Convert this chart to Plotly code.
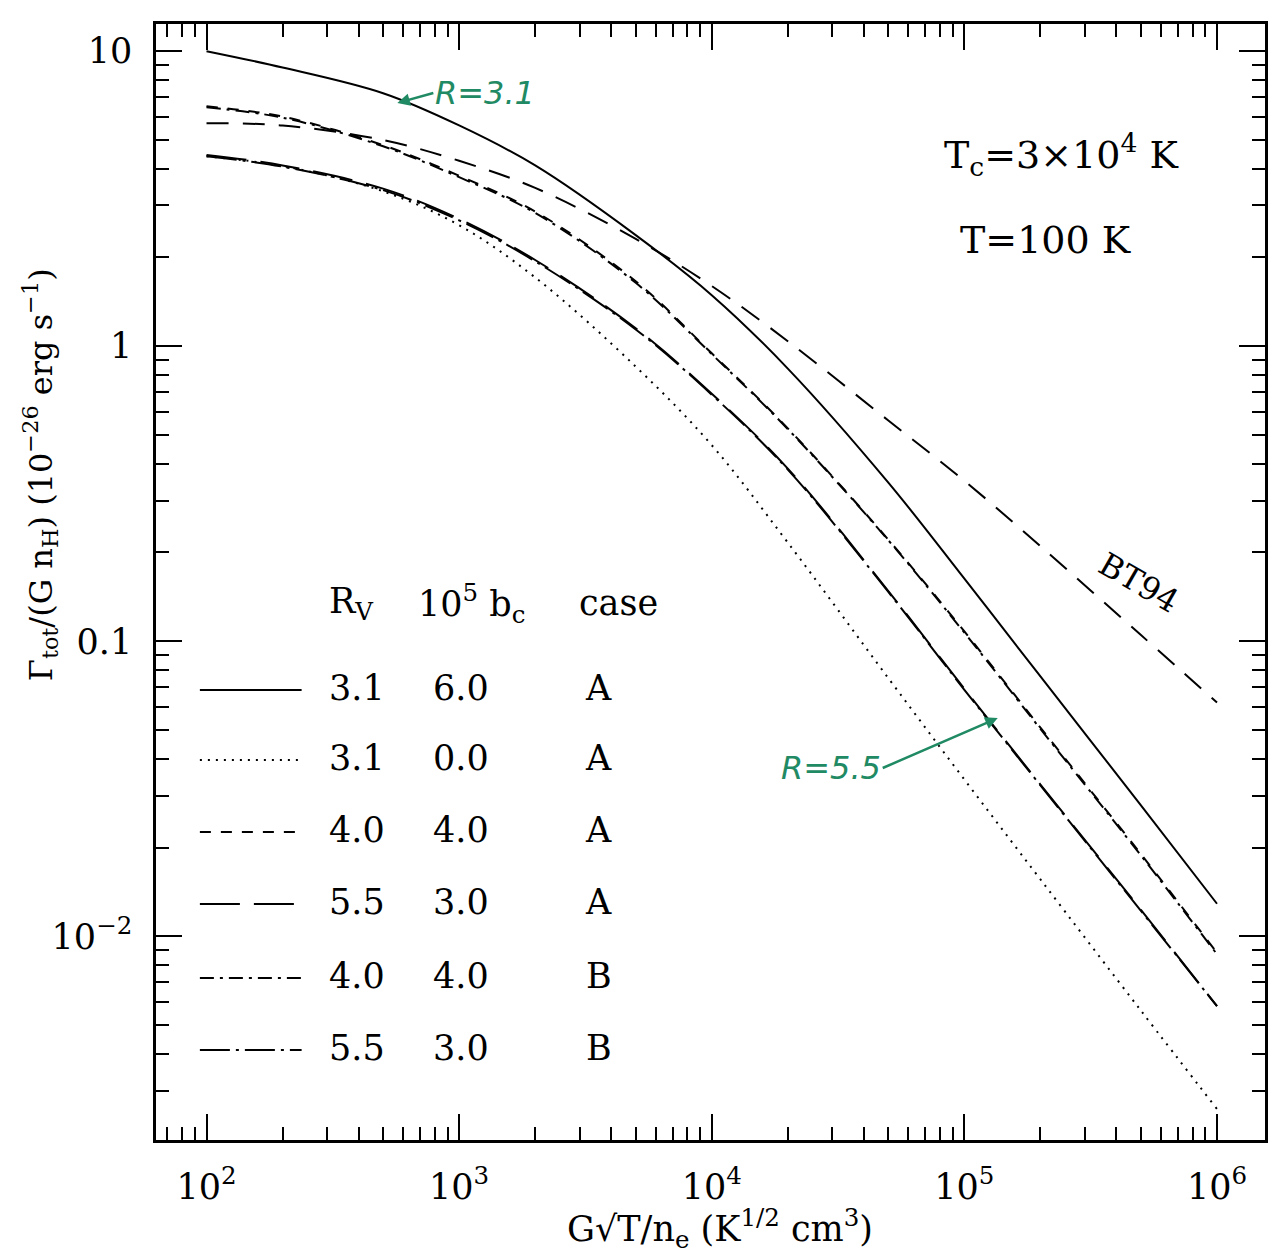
import plotly.graph_objects as go

# ---------------- data ----------------
x_vals = [100, 200, 500, 1000, 2000, 5000, 1e4, 2e4, 5e4, 1e5, 2e5, 5e5, 1e6]

gamma_31_60_A = [10.0, 8.8, 7.2, 5.6, 4.1, 2.38, 1.49, 0.84, 0.345, 0.163, 0.076, 0.0278, 0.0129]
gamma_31_00_A = [4.4, 4.08, 3.35, 2.57, 1.71, 0.853, 0.462, 0.216, 0.075, 0.034, 0.0156, 0.0056, 0.0026]
gamma_40_40_A = [6.5, 6.0, 4.8, 3.78, 2.86, 1.66, 0.946, 0.527, 0.221, 0.108, 0.051, 0.0190, 0.0088]
gamma_55_30_A = [4.45, 4.1, 3.42, 2.70, 1.96, 1.15, 0.69, 0.385, 0.148, 0.069, 0.0327, 0.0123, 0.0058]
gamma_40_40_B = [6.45, 5.95, 4.76, 3.74, 2.83, 1.64, 0.94, 0.524, 0.22, 0.107, 0.0505, 0.0188, 0.0087]
gamma_55_30_B = [4.4, 4.06, 3.38, 2.67, 1.94, 1.14, 0.685, 0.382, 0.147, 0.0685, 0.0325, 0.0122, 0.0058]
gamma_BT94 = [5.7, 5.6, 5.0, 4.25, 3.44, 2.31, 1.60, 1.04, 0.56, 0.35, 0.21, 0.105, 0.062]

rv_labels = ["3.1", "3.1", "4.0", "5.5", "4.0", "5.5"]
bc_labels = ["6.0", "0.0", "4.0", "3.0", "4.0", "3.0"]
case_labels = ["A", "A", "A", "A", "B", "B"]

x_tickvals = [1e2, 1e3, 1e4, 1e5, 1e6]
x_ticktext = ["10<sup>2</sup>", "10<sup>3</sup>", "10<sup>4</sup>", "10<sup>5</sup>", "10<sup>6</sup>"]
y_tickvals = [0.01, 0.1, 1, 10]
y_ticktext = ["10<sup>\u22122</sup>", "0.1", "1", "10"]

# ---------------- layout geometry ----------------
W, H = 1276, 1260
ML, MR, MT, MB = 156, 8, 24, 120
PW, PH = W - ML - MR, H - MT - MB


def px(xp):
    return (xp - ML) / PW


def py(yp):
    return 1 - (yp - MT) / PH


FONT = "DejaVu Serif"
GREEN = "#1f8a63"

series = [
    (gamma_31_60_A, "solid"),
    (gamma_31_00_A, "2px,6px"),
    (gamma_40_40_A, "11px,10px"),
    (gamma_55_30_A, "40px,14px"),
    (gamma_40_40_B, "14px,6px,3px,6px"),
    (gamma_55_30_B, "30px,6px,3px,6px"),
]

fig = go.Figure()
for i, (vals, dash) in enumerate(series):
    fig.add_trace(go.Scatter(
        x=x_vals, y=vals, mode="lines", line_shape="spline",
        line=dict(color="black", width=2, dash=dash, smoothing=1.0),
        name=f"{rv_labels[i]} {bc_labels[i]} {case_labels[i]}", showlegend=False))

fig.add_trace(go.Scatter(
    x=x_vals, y=gamma_BT94, mode="lines", line_shape="spline",
    line=dict(color="black", width=2, dash="22px,14px", smoothing=1.0),
    name="BT94", showlegend=False))

minor_x = [m * 10 ** e for e in range(1, 7) for m in range(2, 10)]
minor_y = [m * 10.0 ** e for e in range(-3, 2) for m in range(2, 10)]

axis_common = dict(
    type="log", showgrid=False, zeroline=False, showline=True,
    linecolor="black", linewidth=2.5, mirror="ticks",
    ticks="inside", ticklen=26, tickwidth=2, tickcolor="black",
    tickfont=dict(family=FONT, size=35, color="black"),
)

fig.update_xaxes(
    **axis_common, range=[1.80, 6.19], tickmode="array",
    tickvals=x_tickvals, ticktext=x_ticktext, ticklabelstandoff=14,
    minor=dict(tickmode="array", tickvals=minor_x, ticks="inside",
               ticklen=13, tickwidth=2, tickcolor="black"),
)
fig.update_yaxes(
    **axis_common, range=[-2.69, 1.092], tickmode="array",
    tickvals=y_tickvals, ticktext=y_ticktext, ticklabelstandoff=14,
    minor=dict(tickmode="array", tickvals=minor_y, ticks="inside",
               ticklen=13, tickwidth=2, tickcolor="black"),
)

annotations = []
shapes = []

# legend (manual table)
row_y = [690, 760, 832, 904, 978, 1050]
for i, (vals, dash) in enumerate(series):
    yp = row_y[i]
    shapes.append(dict(type="line", xref="paper", yref="paper",
                       x0=px(200), x1=px(302), y0=py(yp), y1=py(yp),
                       line=dict(color="black", width=2, dash=dash)))
    for txt, cx in ((rv_labels[i], 358), (bc_labels[i], 462), (case_labels[i], 600)):
        annotations.append(dict(x=px(cx), y=py(yp - 2), xref="paper", yref="paper",
                                text=txt, showarrow=False, xanchor="center", yanchor="middle",
                                font=dict(family=FONT, size=35, color="black")))

for txt, cx in (("R<sub>V</sub>", 352), ("10<sup>5</sup> b<sub>c</sub>", 472), ("case", 620)):
    annotations.append(dict(x=px(cx), y=py(603), xref="paper", yref="paper",
                            text=txt, showarrow=False, xanchor="center", yanchor="middle",
                            font=dict(family=FONT, size=35, color="black")))

# parameter labels
annotations.append(dict(x=px(944), y=py(155), xref="paper", yref="paper",
                        text="T<sub>c</sub>=3\u00d710<sup>4</sup> K", showarrow=False,
                        xanchor="left", yanchor="middle",
                        font=dict(family=FONT, size=38, color="black")))
annotations.append(dict(x=px(960), y=py(240), xref="paper", yref="paper",
                        text="T=100 K", showarrow=False, xanchor="left", yanchor="middle",
                        font=dict(family=FONT, size=38, color="black")))

# BT94 label
annotations.append(dict(x=px(1142), y=py(583), xref="paper", yref="paper",
                        text="BT94", showarrow=False, textangle=30,
                        xanchor="center", yanchor="middle",
                        font=dict(family=FONT, size=32, color="black")))

# handwritten green notes
annotations.append(dict(x=px(398), y=py(103), xref="paper", yref="paper",
                        ax=36, ay=-10, axref="pixel", ayref="pixel",
                        text="<i>R=3.1</i>", showarrow=True, arrowhead=2, arrowsize=1,
                        arrowwidth=2.5, arrowcolor=GREEN, xanchor="left",
                        font=dict(family="DejaVu Sans", size=32, color=GREEN)))
annotations.append(dict(x=px(1000), y=py(718), xref="paper", yref="paper",
                        ax=-115, ay=50, axref="pixel", ayref="pixel",
                        text="<i>R=5.5</i>", showarrow=True, arrowhead=2, arrowsize=1,
                        arrowwidth=2.5, arrowcolor=GREEN, xanchor="right",
                        font=dict(family="DejaVu Sans", size=32, color=GREEN)))

# axis titles
annotations.append(dict(x=px(40), y=py(475), xref="paper", yref="paper",
                        text="\u0393<sub>tot</sub>/(G n<sub>H</sub>) (10<sup>\u221226</sup> erg s<sup>\u22121</sup>)",
                        textangle=-90, showarrow=False, xanchor="center", yanchor="middle",
                        font=dict(family=FONT, size=32, color="black")))
annotations.append(dict(x=px(722), y=py(1228), xref="paper", yref="paper",
                        text="G\u221aT/n<sub>e</sub> (K<sup>1/2</sup> cm<sup>3</sup>)",
                        showarrow=False, xanchor="center", yanchor="middle",
                        font=dict(family=FONT, size=35, color="black")))

fig.update_layout(
    width=W, height=H,
    margin=dict(l=ML, r=MR, t=MT, b=MB),
    paper_bgcolor="white", plot_bgcolor="white",
    showlegend=False,
    annotations=annotations, shapes=shapes,
)

fig.write_html("out.html")
